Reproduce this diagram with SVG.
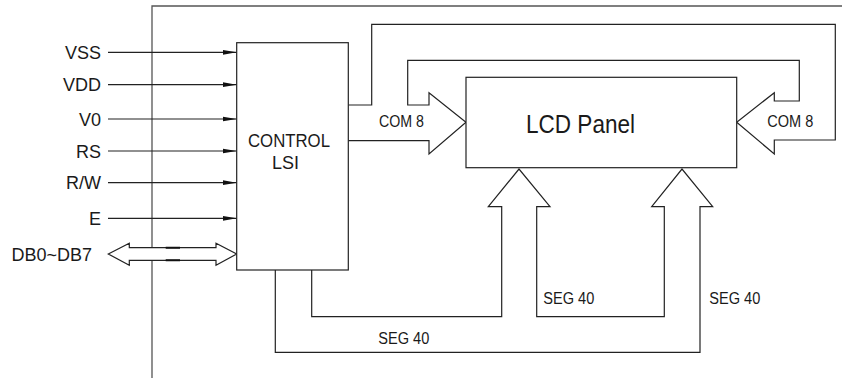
<svg xmlns="http://www.w3.org/2000/svg" width="842" height="378" viewBox="0 0 842 378">
<defs>
<style>
.t{font-family:"Liberation Sans",Arial,sans-serif;fill:#1a1a1a}
.lbl{font-size:18px}
.sm{font-size:16px}
.ln{fill:none;stroke:#222;stroke-width:1.2}
.fr{fill:none;stroke:#555;stroke-width:1.3}
.bus{fill:#fff;stroke:#222;stroke-width:1.2;stroke-linejoin:miter}
</style>
<marker id="ah" markerUnits="userSpaceOnUse" markerWidth="14" markerHeight="6" refX="14" refY="3" orient="auto">
<path d="M0,0.6 L14,3 L0,5.4 Z" fill="#111"/>
</marker>
</defs>
<g id="frame">
<path class="fr" d="M152,378 V6 H842"/>
</g>
<g id="connectors">
<line class="ln" x1="108" y1="52.3" x2="236.7" y2="52.3" marker-end="url(#ah)"/>
<line class="ln" x1="108" y1="84.7" x2="236.7" y2="84.7" marker-end="url(#ah)"/>
<line class="ln" x1="108" y1="119" x2="236.7" y2="119" marker-end="url(#ah)"/>
<line class="ln" x1="108" y1="151" x2="236.7" y2="151" marker-end="url(#ah)"/>
<line class="ln" x1="108" y1="182.7" x2="236.7" y2="182.7" marker-end="url(#ah)"/>
<line class="ln" x1="108" y1="218.3" x2="236.7" y2="218.3" marker-end="url(#ah)"/>
<path class="bus" d="M108.3,254 L129.3,243.3 V247.7 H216 V243.3 L236.7,254 L216,265.3 V260.3 H129.3 V265.3 Z"/>
<path stroke="#111" stroke-width="2" d="M165.7,247.7 H180 M165.7,260.3 H180"/>
<path class="ln" d="M348.3,105 H371.7 V24.3 H835.3 V140 H774.3 V154 L736.7,122.3 L774.3,92.7 V101 H799.3 V60.3 H407.7 V105 H429 V92.7 L466,122.3 L429,154 V140.7 H348.3"/>
<path class="ln" d="M275.3,270 V352.3 H700 V206.7 H712.7 L682,169 L651.7,206.7 H664.3 V316.7 H536.7 V206.7 H550 L519,169 L488.3,206.7 H501.7 V316.7 H311.7 V270"/>
</g>
<g id="control-lsi">
<rect x="236.7" y="42.7" width="111.6" height="227.3" fill="#fff" stroke="#222" stroke-width="1.2"/>
<text class="t lbl" x="289" y="147" text-anchor="middle" textLength="82" lengthAdjust="spacingAndGlyphs">CONTROL</text>
<text class="t lbl" x="285.5" y="168.5" text-anchor="middle">LSI</text>
</g>
<g id="lcd-panel">
<rect x="466" y="77.3" width="270.7" height="90.4" fill="#fff" stroke="#222" stroke-width="1.2"/>
<text class="t" font-size="25" x="526" y="133" textLength="109" lengthAdjust="spacingAndGlyphs">LCD Panel</text>
</g>
<g id="labels">
<text class="t lbl" x="101" y="58.5" text-anchor="end">VSS</text>
<text class="t lbl" x="101" y="91" text-anchor="end">VDD</text>
<text class="t lbl" x="101" y="125.5" text-anchor="end">V0</text>
<text class="t lbl" x="101" y="157.5" text-anchor="end">RS</text>
<text class="t lbl" x="101" y="189" text-anchor="end">R/W</text>
<text class="t lbl" x="101" y="224.8" text-anchor="end">E</text>
<text class="t lbl" x="92" y="260.5" text-anchor="end">DB0~DB7</text>
<text class="t sm" x="379" y="127" textLength="45" lengthAdjust="spacingAndGlyphs">COM 8</text>
<text class="t sm" x="767.3" y="127" textLength="46" lengthAdjust="spacingAndGlyphs">COM 8</text>
<text class="t sm" x="378.3" y="344" textLength="51" lengthAdjust="spacingAndGlyphs">SEG 40</text>
<text class="t sm" x="543.3" y="303.5" textLength="51" lengthAdjust="spacingAndGlyphs">SEG 40</text>
<text class="t sm" x="709.3" y="303.5" textLength="51" lengthAdjust="spacingAndGlyphs">SEG 40</text>
</g>
</svg>
